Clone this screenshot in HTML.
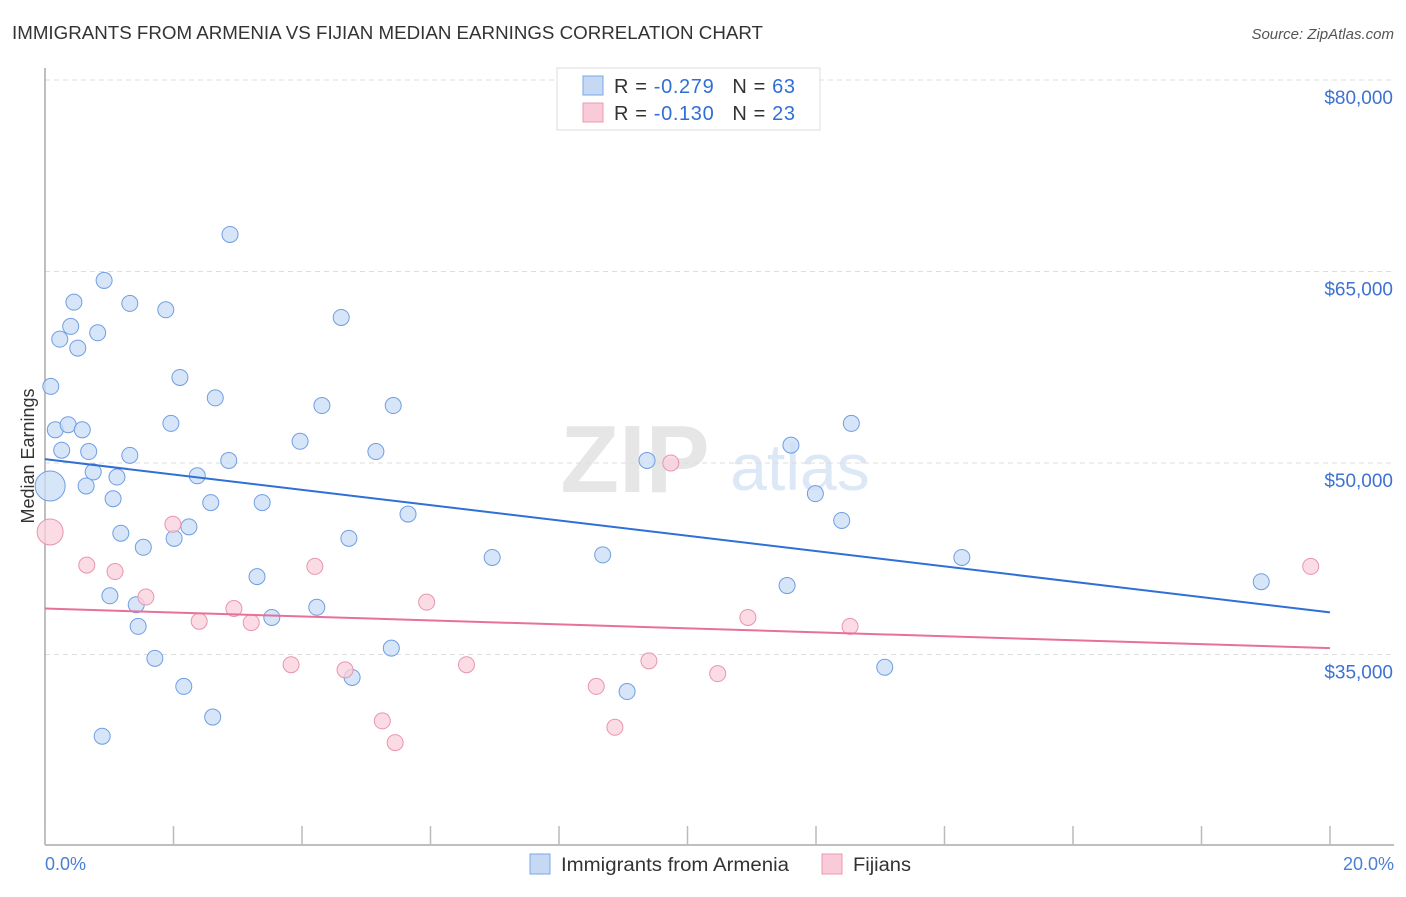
<!DOCTYPE html>
<html><head><meta charset="utf-8"><style>
body{margin:0;background:#fff;font-family:"Liberation Sans",sans-serif;}
svg text{font-family:"Liberation Sans",sans-serif;}
</style></head><body>
<svg id="chart" width="1406" height="892" xmlns="http://www.w3.org/2000/svg">
<text x="12" y="39" font-size="18" fill="#333" textLength="751" lengthAdjust="spacingAndGlyphs">IMMIGRANTS FROM ARMENIA VS FIJIAN MEDIAN EARNINGS CORRELATION CHART</text>
<text x="1394" y="39" font-size="15" fill="#555" text-anchor="end" font-style="italic">Source: ZipAtlas.com</text>
<g>
<text x="635" y="492" font-size="96" fill="#e6e6e6" font-family="Liberation Serif" text-anchor="middle" font-weight="bold">ZIP</text>
<text x="800" y="490" font-size="66" fill="#dde8f6" text-anchor="middle">atlas</text>
</g>
<g id="grid"></g>
<line x1="45" y1="68" x2="45" y2="845" stroke="#aaa" stroke-width="1.5"/>
<line x1="45" y1="845" x2="1394" y2="845" stroke="#aaa" stroke-width="1.5"/>
<g id="xticks"></g>
<text transform="translate(34,456) rotate(-90)" font-size="18" fill="#333" text-anchor="middle">Median Earnings</text>
<text x="45" y="870" font-size="18" fill="#4a7fd4">0.0%</text>
<text x="1394" y="870" font-size="18" fill="#4a7fd4" text-anchor="end">20.0%</text>
<g id="points"></g>
<g id="trends"></g>
<g>
<rect x="557" y="68" width="263" height="62" fill="#fff" stroke="#ddd"/>
<rect x="583" y="76" width="20" height="19" fill="#c5d9f5" stroke="#7aa6e6"/>
<text x="614" y="93" font-size="20" fill="#333" textLength="181" lengthAdjust="spacing">R = <tspan fill="#2f6fd6">-0.279</tspan><tspan dx="18">N = </tspan><tspan fill="#2f6fd6">63</tspan></text>
<rect x="583" y="103" width="20" height="19" fill="#f9cbd8" stroke="#ec98b2"/>
<text x="614" y="120" font-size="20" fill="#333" textLength="181" lengthAdjust="spacing">R = <tspan fill="#2f6fd6">-0.130</tspan><tspan dx="18">N = </tspan><tspan fill="#2f6fd6">23</tspan></text>
</g>
<g>
<rect x="530" y="854" width="20" height="20" fill="#c5d9f5" stroke="#7aa6e6"/>
<text x="561" y="871" font-size="19" fill="#333" textLength="228" lengthAdjust="spacingAndGlyphs">Immigrants from Armenia</text>
</g>
<g>
<rect x="822" y="854" width="20" height="20" fill="#f9cbd8" stroke="#ec98b2"/>
<text x="853" y="871" font-size="19" fill="#333" textLength="58" lengthAdjust="spacingAndGlyphs">Fijians</text>
</g>
</svg>
<script>
const yTicks=[35000,50000,65000,80000];
const yTickLabels=["$35,000","$50,000","$65,000","$80,000"];
const xTickVals=[0,2,4,6,8,10,12,14,16,18,20];
const armeniaX=[0.09,0.16,0.26,0.36,0.58,0.23,0.40,0.45,0.51,0.82,0.92,1.32,1.88,2.88,2.10,2.65,1.96,1.32,0.68,0.75,0.64,1.12,1.06,1.18,1.53,1.01,1.42,1.45,1.71,2.16,2.61,0.89,2.37,2.86,2.58,2.24,2.01,3.30,3.38,3.53,3.97,4.31,4.61,4.23,4.73,5.15,5.42,5.65,4.78,5.39,6.96,8.68,9.06,9.37,11.61,11.99,12.40,12.55,11.55,13.07,14.27,18.93,0.08];
const armeniaY=[56000,52600,51000,53000,52600,59700,60700,62600,59000,60200,64300,62500,62000,67900,56700,55100,53100,50600,50900,49300,48200,48900,47200,44500,43400,39600,38900,37200,34700,32500,30100,28600,49000,50200,46900,45000,44100,41100,46900,37900,51700,54500,61400,38700,44100,50900,54500,46000,33200,35500,42600,42800,32100,50200,51400,47600,45500,53100,40400,34000,42600,40700,48200];
const fijiX=[0.08,0.65,1.09,1.57,1.99,2.40,2.94,3.21,3.83,4.20,4.67,5.25,5.45,5.94,6.56,8.58,8.87,9.40,9.74,10.47,10.94,12.53,19.70];
const fijiY=[44600,42000,41500,39500,45200,37600,38600,37500,34200,41900,33800,29800,28100,39100,34200,32500,29300,34500,50000,33500,37900,37200,41900];
const armeniaTrend=[50300,38300];
const fijiTrend=[38600,35500];
const NS="http://www.w3.org/2000/svg";
function X(p){return 45+p*(1330-45)/20;}
function Y(v){return 463-(v-50000)*191.5/15000;}
function mk(t,a,p){const e=document.createElementNS(NS,t);for(const k in a)e.setAttribute(k,a[k]);p.appendChild(e);return e;}
const grid=document.getElementById('grid');
yTicks.forEach((v,i)=>{
 const l=mk('line',{x1:45,x2:1394,y1:Y(v),y2:Y(v),stroke:'#ddd','stroke-dasharray':'5,4'},grid);
 
 
 const t=mk('text',{x:1393,y:Y(v)+24,'font-size':19,fill:'#3d72d1','text-anchor':'end'},grid);
 t.textContent=yTickLabels[i];
 
 
});
const xt=document.getElementById('xticks');
xTickVals.forEach(v=>{
 const l=mk('line',{x1:X(v),x2:X(v),y1:826,y2:845,stroke:'#bbb','stroke-width':1.5},xt);
 
 
});
const pts=document.getElementById('points');
function draw(xs,ys,fill,stroke,name,bigIdx,bigR){
 xs.forEach((x,i)=>{
  const c=mk('circle',{cx:X(x),cy:Y(ys[i]),r:i===bigIdx?bigR:8,fill:fill,stroke:stroke,'stroke-width':1,'fill-opacity':0.75},pts);
  
  
 });
}
draw(armeniaX,armeniaY,'#c9dcf6','#6f9ee3','armenia-point',62,15);
draw(fijiX,fijiY,'#f9cfdb','#e995b0','fijian-point',0,13);
const tr=document.getElementById('trends');
const a=mk('line',{x1:X(0),x2:X(20),y1:Y(armeniaTrend[0]),y2:Y(armeniaTrend[1]),stroke:'#2f6fd6','stroke-width':2},tr);


const f=mk('line',{x1:X(0),x2:X(20),y1:Y(fijiTrend[0]),y2:Y(fijiTrend[1]),stroke:'#e8709a','stroke-width':2},tr);


</script>
</body></html>
